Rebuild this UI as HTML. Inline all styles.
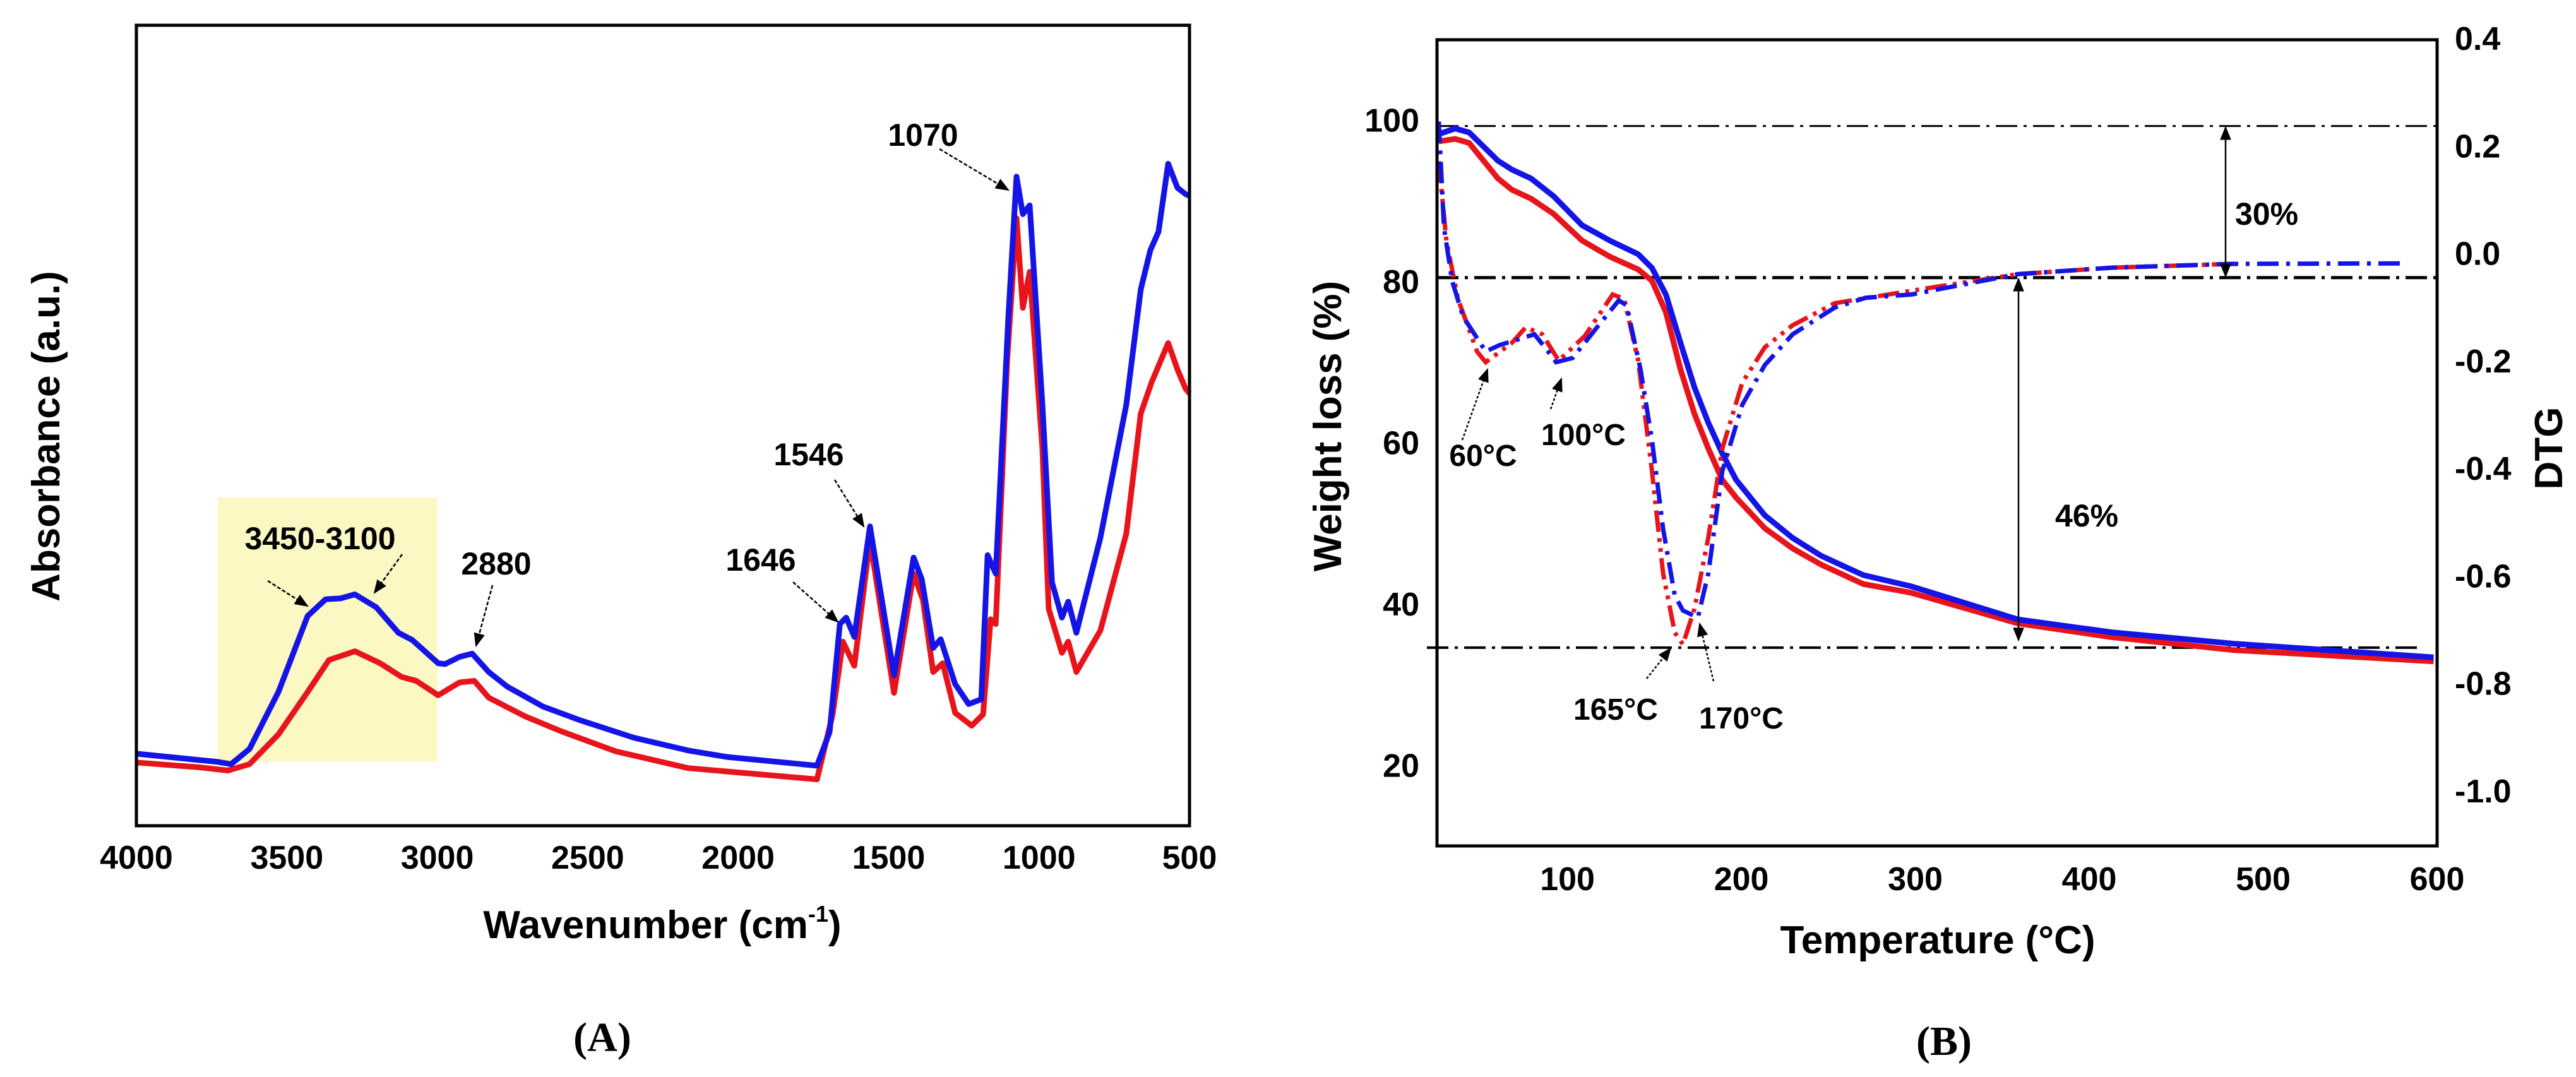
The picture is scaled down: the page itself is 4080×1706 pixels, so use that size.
<!DOCTYPE html>
<html><head><meta charset="utf-8"><style>
html,body{margin:0;padding:0;background:#fff;}
svg{display:block;}
text{font-family:"Liberation Sans",Arial,sans-serif;font-weight:bold;fill:#000;}
.serif{font-family:"Liberation Serif","Times New Roman",serif;}
</style></head><body>
<svg id="fig" width="4080" height="1706" viewBox="0 0 4080 1706" xmlns="http://www.w3.org/2000/svg">
<defs>
<marker id="ah" viewBox="0 0 10 10" refX="9" refY="5" markerWidth="9" markerHeight="9" markerUnits="userSpaceOnUse" orient="auto"><path d="M0,0 L10,5 L0,10 z" fill="#000"/></marker>
<marker id="ahB" viewBox="0 0 10 10" refX="9" refY="5" markerWidth="26" markerHeight="22" markerUnits="userSpaceOnUse" orient="auto"><path d="M0,1 L10,5 L0,9 z" fill="#000"/></marker>
</defs>
<g id="panelA"></g>
<g id="panelB"></g>
</svg>
<script>
// ---------- Panel A data (FTIR) ----------
const ftirBlueWn = [4000,3734,3685,3624,3528,3431,3371,3322,3274,3203,3129,3083,2997,2974,2926,2884,2829,2768,2649,2527,2347,2166,2038,1738,1696,1662,1641,1614,1562,1482,1417,1390,1352,1327,1279,1234,1192,1171,1144,1102,1075,1054,1031,989,957,924,903,876,796,710,662,630,603,571,540,513,500];
const ftirBlueAbs = [9.0,8.0,7.7,9.6,16.7,26.2,28.3,28.4,28.9,27.3,24.1,23.2,20.3,20.2,21.1,21.5,19.2,17.4,14.9,13.2,11.0,9.4,8.6,7.5,11.7,25.2,26.0,23.6,37.4,18.8,33.5,30.8,22.2,23.3,17.7,15.2,15.8,33.8,31.5,63.6,81.1,76.4,77.5,52.6,30.4,26.0,28.0,24.1,36.0,52.6,67.0,71.9,74.2,82.7,79.7,78.9,78.7];
const ftirRedWn = [4000,3792,3696,3624,3528,3431,3360,3274,3190,3119,3070,2997,2926,2877,2829,2710,2588,2407,2166,1738,1686,1652,1614,1562,1482,1417,1386,1352,1320,1279,1224,1186,1161,1144,1106,1075,1054,1031,989,968,924,903,876,796,710,662,626,571,540,513,500];
const ftirRedAbs = [7.9,7.3,6.9,7.7,11.4,16.7,20.7,21.8,20.3,18.6,18.1,16.3,17.9,18.1,16.0,13.7,11.8,9.3,7.2,5.8,13.9,23.0,20.0,35.7,16.6,31.5,28.2,19.2,20.3,14.1,12.5,13.9,25.8,25.2,58.1,75.9,64.7,69.2,47.1,27.1,21.6,23.0,19.2,24.4,36.5,51.5,55.4,60.3,57.0,54.6,54.0];
const ftirTicks = [4000,3500,3000,2500,2000,1500,1000,500];
const ftirBand = [3730,3000];
const ftirBandAbs = [8,41];
const ftirLabels = ["3450-3100","2880","1646","1546","1070"];

// ---------- Panel B data (TGA / DTG) ----------
const tgTemp = [26,35.5,43.5,60,68,79,92,108.4,124.3,140.7,148.6,156.6,165,173,181,189,197,213.5,229.5,245.8,270,297.7,359,413,482.6,598];
const tgBlue = [98.3,99.0,98.5,95.0,93.9,92.8,90.6,87.0,85.1,83.4,81.7,78.4,72.4,66.9,62.5,58.7,55.4,51.0,48.2,46.0,43.6,42.2,38.1,36.5,35.1,33.4];
const tgRed = [97.4,97.7,97.2,92.8,91.4,90.3,88.4,85.1,83.1,81.5,80.1,76.2,69.1,63.6,59.3,55.4,53.2,49.4,46.9,44.9,42.5,41.4,37.6,35.9,34.3,32.9];
const dtgBlueTemp = [26,29,33.7,40,53,61,81,87,93.5,103,116,129.5,134,142,148.6,155,161.7,166.4,175,181,189,200.5,213.5,229.5,253.8,271.6,297.7,359,413,482.6,582];
const dtgBlue = [0.248,0.051,-0.049,-0.115,-0.180,-0.168,-0.148,-0.172,-0.200,-0.192,-0.139,-0.085,-0.094,-0.213,-0.345,-0.510,-0.634,-0.662,-0.675,-0.593,-0.403,-0.279,-0.205,-0.148,-0.098,-0.080,-0.074,-0.036,-0.024,-0.017,-0.016];
const dtgRedTemp = [26,30.4,37,48,53,68,76,85.5,95,110,126,132.6,140.7,148.6,155,161.7,166.4,173,181,189,200.5,213.5,229.5,253.8,297.7,359];
const dtgRed = [0.174,0.026,-0.082,-0.180,-0.200,-0.164,-0.135,-0.148,-0.197,-0.151,-0.074,-0.082,-0.197,-0.403,-0.593,-0.703,-0.725,-0.659,-0.526,-0.361,-0.238,-0.172,-0.131,-0.090,-0.067,-0.036];
const tgTicksX = [100,200,300,400,500,600];
const tgTicksY = [20,40,60,80,100];
const dtgTicks = [0.4,0.2,0.0,-0.2,-0.4,-0.6,-0.8,-1.0];
const refLines = [99.3,80.5,34.6];
const pctLabels = ["30%","46%"];
const tempLabels = ["60°C","100°C","165°C","170°C"];

const NS = "http://www.w3.org/2000/svg";
function mk(parent, tag, attrs, text){
  const e = document.createElementNS(NS, tag);
  for (const k in attrs) e.setAttribute(k, attrs[k]);
  if (text !== undefined) e.textContent = text;
  parent.appendChild(e);
  return e;
}
function pathFrom(xs, ys, fx, fy){
  return xs.map((v,i)=>(i?"L":"M")+fx(v).toFixed(1)+","+fy(ys[i]).toFixed(1)).join(" ");
}

// ===== Panel A =====
const A = document.getElementById('panelA');
const aL=216, aR=1884, aT=40, aB=1308;
const ax = w => aL + (4000 - w) / 3500 * (aR - aL);
const ay = v => aB - v / 100 * (aB - aT);

const band = mk(A,'rect',{x:ax(ftirBand[0]),y:ay(ftirBandAbs[1]),width:ax(ftirBand[1])-ax(ftirBand[0]),height:ay(ftirBandAbs[0])-ay(ftirBandAbs[1]),fill:'#fbf8c4'});



const rA = mk(A,'path',{d:pathFrom(ftirRedWn,ftirRedAbs,ax,ay),fill:'none',stroke:'#e8141c','stroke-width':9,'stroke-linejoin':'round'});


const bA = mk(A,'path',{d:pathFrom(ftirBlueWn,ftirBlueAbs,ax,ay),fill:'none',stroke:'#1414e6','stroke-width':9,'stroke-linejoin':'round'});



const frameA = mk(A,'rect',{x:aL,y:aT,width:aR-aL,height:aB-aT,fill:'none',stroke:'#000','stroke-width':5});



ftirTicks.forEach(t=>{
  const tl = mk(A,'text',{x:ax(t),y:1376,'font-size':52,'text-anchor':'middle'},String(t));
  
  
});
const xtA = mk(A,'text',{x:1049,y:1486,'font-size':62,'text-anchor':'middle'});


xtA.innerHTML = 'Wavenumber (cm<tspan dy="-26" font-size="36">-1</tspan><tspan dy="26">)</tspan>';
const ytA = mk(A,'text',{x:0,y:0,'font-size':62,'text-anchor':'middle',transform:'translate(94,691) rotate(-90)'},'Absorbance (a.u.)');



// annotations panel A
const annA = [
  {t:ftirLabels[0],x:507,y:870},{t:ftirLabels[1],x:786,y:910},
  {t:ftirLabels[2],x:1205,y:904},{t:ftirLabels[3],x:1281,y:737},{t:ftirLabels[4],x:1462,y:231}];
annA.forEach(a=>{
  const e = mk(A,'text',{x:a.x,y:a.y,'font-size':50,'text-anchor':'middle'},a.t);
  
  
});
const arrA = [[424,920,487,960],[637,878,593,939],[780,927,754,1023],[1256,922,1327,985],[1322,760,1368,834],[1488,236,1597,301]];
arrA.forEach(a=>{
  const e = mk(A,'line',{x1:a[0],y1:a[1],x2:a[2],y2:a[3],stroke:'#000','stroke-width':2.5,'stroke-dasharray':'6 3','marker-end':'url(#ahB)'});
  
  
});
const capA = mk(A,'text',{x:954,y:1665,'font-size':66,'text-anchor':'middle',class:'serif'});
capA.innerHTML='(<tspan font-weight="bold">A</tspan>)';



// ===== Panel B =====
const B = document.getElementById('panelB');
const bL=2276, bR=3860, bT=63, bB=1340;
const bx = t => bL + (t - 25) / 575 * (bR - bL);
const by = w => bB - (w - 10) / 100 * (bB - bT);
const byD = d => bB - (d + 1.1) / 1.5 * (bB - bT);

// reference lines
const refExt = [[bL,bR,3],[bL,bR,5],[bL-16,3835,4]];
refLines.forEach((w,i)=>{
  const e = mk(B,'line',{x1:refExt[i][0],x2:refExt[i][1],y1:by(w),y2:by(w),stroke:'#000','stroke-width':refExt[i][2],'stroke-dasharray':'34 10 5 10'});
  
  
});

const rT = mk(B,'path',{d:pathFrom(tgTemp,tgRed,bx,by),fill:'none',stroke:'#e8141c','stroke-width':9});


const bT2 = mk(B,'path',{d:pathFrom(tgTemp,tgBlue,bx,by),fill:'none',stroke:'#1414e6','stroke-width':9});


const rD = mk(B,'path',{d:pathFrom(dtgRedTemp,dtgRed,bx,byD)+" L"+bx(413)+","+byD(-0.024)+" L"+bx(482.6)+","+byD(-0.017),fill:'none',stroke:'#e8141c','stroke-width':7,'stroke-dasharray':'34 10 6 10 6 10'});


const bD = mk(B,'path',{d:pathFrom(dtgBlueTemp,dtgBlue,bx,byD),fill:'none',stroke:'#1414e6','stroke-width':7,'stroke-dasharray':'34 12 6 12'});



const frameB = mk(B,'rect',{x:bL,y:bT,width:bR-bL,height:bB-bT,fill:'none',stroke:'#000','stroke-width':5});



tgTicksX.forEach(t=>{
  const e = mk(B,'text',{x:bx(t),y:1410,'font-size':52,'text-anchor':'middle'},String(t));
  
  
});
tgTicksY.forEach(t=>{
  const e = mk(B,'text',{x:2248,y:by(t)+18,'font-size':52,'text-anchor':'end'},String(t));
  
  
});
dtgTicks.forEach(t=>{
  const e = mk(B,'text',{x:3888,y:byD(t)+16,'font-size':52,'text-anchor':'start'},t.toFixed(1));
  
  
});
const xtB = mk(B,'text',{x:3069,y:1510,'font-size':62,'text-anchor':'middle'},'Temperature (°C)');


const ytB = mk(B,'text',{x:0,y:0,'font-size':62,'text-anchor':'middle',transform:'translate(2124,675) rotate(-90)'},'Weight loss (%)');


const ytB2 = mk(B,'text',{x:0,y:0,'font-size':62,'text-anchor':'middle',transform:'translate(4058,710) rotate(-90)'},'DTG');



// percentage arrows
const pa = [[3525,by(refLines[0]),by(refLines[1])],[3197,by(refLines[1]),1016]];
pa.forEach(p=>{
  const e = mk(B,'line',{x1:p[0],x2:p[0],y1:(p[1]+p[2])/2,y2:p[1]+2,stroke:'#000','stroke-width':2.5,'marker-end':'url(#ahB)'});
  
  
  const f = mk(B,'line',{x1:p[0],x2:p[0],y1:(p[1]+p[2])/2,y2:p[2]-2,stroke:'#000','stroke-width':2.5,'marker-end':'url(#ahB)'});
  
  
});
const p30 = mk(B,'text',{x:3540,y:356,'font-size':50},pctLabels[0]);


const p46 = mk(B,'text',{x:3255,y:834,'font-size':50},pctLabels[1]);



const tl = [{x:2349,y:738},{x:2508,y:705},{x:2559,y:1140},{x:2758,y:1154}];
tempLabels.forEach((t,i)=>{
  const e = mk(B,'text',{x:tl[i].x,y:tl[i].y,'font-size':48,'text-anchor':'middle'},t);
  
  
});
const arrB = [[2316,697,2356,585],[2456,648,2473,600],[2608,1075,2646,1027],[2714,1079,2692,988]];
arrB.forEach(a=>{
  const e = mk(B,'line',{x1:a[0],y1:a[1],x2:a[2],y2:a[3],stroke:'#000','stroke-width':2.5,'stroke-dasharray':'4 3','marker-end':'url(#ahB)'});
  
  
});
const capB = mk(B,'text',{x:3079,y:1671,'font-size':66,'text-anchor':'middle',class:'serif'});
capB.innerHTML='(<tspan font-weight="bold">B</tspan>)';


</script>
</body></html>
